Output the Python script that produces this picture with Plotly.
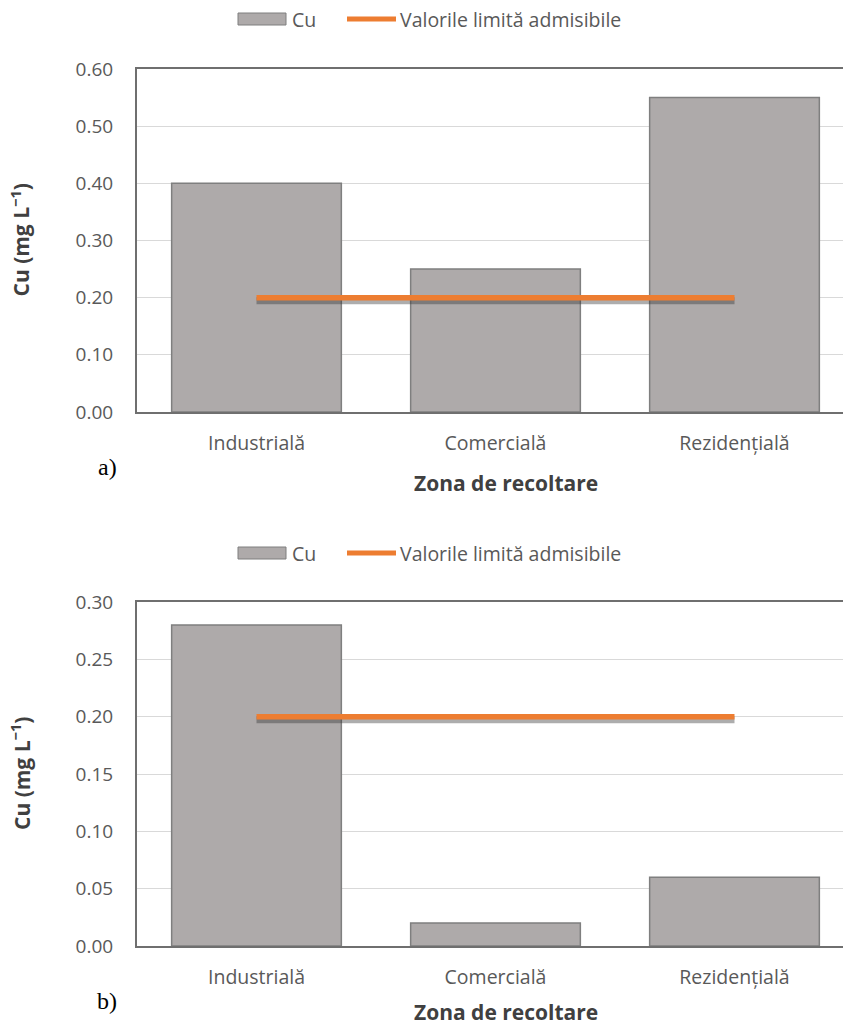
import plotly.graph_objects as go

# Data
zones = ["Industrială", "Comercială", "Rezidențială"]
cu_a = [0.40, 0.25, 0.55]
cu_b = [0.28, 0.02, 0.06]
limit_value = 0.20
yticks_a = [0.00, 0.10, 0.20, 0.30, 0.40, 0.50, 0.60]
yticks_b = [0.00, 0.05, 0.10, 0.15, 0.20, 0.25, 0.30]

W, H = 843, 1025
BAR_FILL = "#AEAAAA"
BAR_EDGE = "#7F7F7F"
ORANGE = "#ED7D31"
TXT = "#595959"
FONT = "Open Sans"


def py(px):
    """pixel row -> paper y"""
    return 1 - px / H


def px_x(px):
    return px / W


fig = go.Figure()

panels = [
    dict(vals=cu_a, ticks=yticks_a, top=69, bot=412, tag="a)", leg=19, tag_y=467, title_y=483, ax=""),
    dict(vals=cu_b, ticks=yticks_b, top=602, bot=946, tag="b)", leg=553, tag_y=1001, title_y=1012, ax="2"),
]

annotations = []
shapes = []

for p in panels:
    xa = "x" + p["ax"]
    ya = "y" + p["ax"]
    ymax = p["ticks"][-1]
    unit = ymax / (p["bot"] - p["top"])  # data units per pixel

    fig.add_trace(go.Bar(
        x=zones, y=p["vals"], xaxis=xa, yaxis=ya,
        marker=dict(color=BAR_FILL, line=dict(color=BAR_EDGE, width=1.5)),
        width=0.71, showlegend=False, hoverinfo="x+y",
    ))
    # soft shadow under the limit line
    fig.add_trace(go.Scatter(
        x=zones, y=[limit_value - 3 * unit] * len(zones), xaxis=xa, yaxis=ya,
        mode="lines", line=dict(color="rgba(50,50,50,0.4)", width=7),
        showlegend=False, hoverinfo="skip",
    ))
    fig.add_trace(go.Scatter(
        x=zones, y=[limit_value] * len(zones), xaxis=xa, yaxis=ya,
        mode="lines", line=dict(color=ORANGE, width=5.5),
        showlegend=False, hoverinfo="x+y",
    ))

    axis_key = "xaxis" + p["ax"]
    yaxis_key = "yaxis" + p["ax"]
    fig.update_layout(**{
        axis_key: dict(
            domain=[px_x(137), 1], anchor=ya, range=[-0.5, 2.454],
            automargin=False,
            showline=True, linecolor="#6F6F6F", linewidth=2, mirror=True,
            showgrid=False, ticks="outside", ticklen=13, tickcolor="rgba(0,0,0,0)",
            tickfont=dict(family=FONT, size=19.5, color=TXT),
        ),
        yaxis_key: dict(
            domain=[py(p["bot"]), py(p["top"])], anchor=xa, range=[0, ymax],
            automargin=False,
            tickvals=p["ticks"], ticktext=[f"{v:.2f}" for v in p["ticks"]],
            showline=True, linecolor="#6F6F6F", linewidth=2, mirror=True,
            showgrid=True, gridcolor="#D9D9D9", gridwidth=1, zeroline=False,
            ticks="outside", ticklen=18, tickcolor="rgba(0,0,0,0)",
            tickfont=dict(family=FONT, size=19, color=TXT),
        ),
    })

    # y-axis title
    annotations.append(dict(
        text="<b>Cu (mg L<sup>−1</sup>)</b>", textangle=-90,
        x=px_x(20), y=py((p["top"] + p["bot"]) / 2), xref="paper", yref="paper",
        xanchor="center", yanchor="middle",
        showarrow=False, font=dict(family=FONT, size=21, color="#404040"),
    ))
    # x-axis title
    annotations.append(dict(
        text="<b>Zona de recoltare</b>",
        x=px_x(506), y=py(p["title_y"]), xref="paper", yref="paper",
        xanchor="center", yanchor="middle",
        showarrow=False, font=dict(family=FONT, size=21, color="#404040"),
    ))
    # panel tag
    annotations.append(dict(
        text=p["tag"], x=px_x(107), y=py(p["tag_y"]), xref="paper", yref="paper",
        xanchor="center", yanchor="middle",
        showarrow=False, font=dict(family="Liberation Serif", size=24, color="#000000"),
    ))

    # legend
    ly = p["leg"]
    shapes.append(dict(
        type="rect", xref="paper", yref="paper",
        x0=px_x(238), x1=px_x(286), y0=py(ly - 6), y1=py(ly + 6),
        fillcolor=BAR_FILL, line=dict(color=BAR_EDGE, width=1),
    ))
    annotations.append(dict(
        text="Cu", x=px_x(290), y=py(ly), xref="paper", yref="paper",
        xanchor="left", yanchor="middle", showarrow=False,
        font=dict(family=FONT, size=19.5, color=TXT),
    ))
    shapes.append(dict(
        type="line", xref="paper", yref="paper",
        x0=px_x(347), x1=px_x(396), y0=py(ly), y1=py(ly),
        line=dict(color=ORANGE, width=5),
    ))
    annotations.append(dict(
        text="Valorile limită admisibile", x=px_x(398), y=py(ly), xref="paper", yref="paper",
        xanchor="left", yanchor="middle", showarrow=False,
        font=dict(family=FONT, size=19.5, color=TXT),
    ))

fig.update_layout(
    width=W, height=H,
    margin=dict(l=0, r=0, t=0, b=0),
    paper_bgcolor="white", plot_bgcolor="white",
    barmode="overlay",
    annotations=annotations, shapes=shapes,
    font=dict(family=FONT),
)

fig.write_html("out.html")
